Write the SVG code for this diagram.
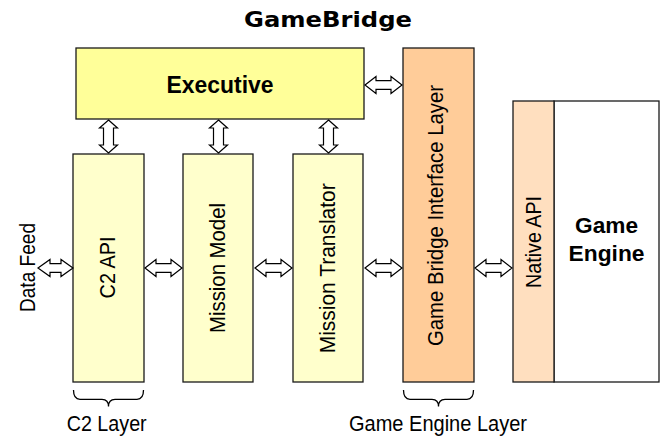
<svg xmlns="http://www.w3.org/2000/svg" width="661" height="437" viewBox="0 0 661 437">
<style>
.box{stroke:#1a1a1a;stroke-width:1.3}
.lbl{font-family:"Liberation Sans",Arial,sans-serif;font-size:22px;fill:#000}
.bold{font-weight:bold}
.arr{fill:#fff;stroke:#000;stroke-width:1.2;stroke-linejoin:miter}
.brace{fill:none;stroke:#000;stroke-width:1.3}
</style>
<rect width="661" height="437" fill="#fff"/>
<text x="328" y="27" text-anchor="middle" font-family="'DejaVu Sans',Verdana,sans-serif" font-weight="bold" font-size="20.5" textLength="168" lengthAdjust="spacingAndGlyphs">GameBridge</text>

<g id="executive">
<rect class="box" x="76" y="48" width="288" height="71" fill="#FFFF99"/>
<text class="lbl bold" x="220" y="93" text-anchor="middle" style="font-size:23px" textLength="107" lengthAdjust="spacingAndGlyphs">Executive</text>
</g>
<g id="c2api">
<rect class="box" x="73" y="154" width="71" height="228" fill="#FFFFCC"/>
<text class="lbl" transform="translate(115,267.5) rotate(-90)" text-anchor="middle" textLength="62" lengthAdjust="spacingAndGlyphs">C2 API</text>
</g>
<g id="missionmodel">
<rect class="box" x="183" y="154" width="70" height="228" fill="#FFFFCC"/>
<text class="lbl" transform="translate(224.5,268) rotate(-90)" text-anchor="middle" textLength="130" lengthAdjust="spacingAndGlyphs">Mission Model</text>
</g>
<g id="missiontranslator">
<rect class="box" x="293" y="154" width="70" height="228" fill="#FFFFCC"/>
<text class="lbl" transform="translate(334.5,268.3) rotate(-90)" text-anchor="middle" textLength="170" lengthAdjust="spacingAndGlyphs">Mission Translator</text>
</g>
<g id="gbil">
<rect class="box" x="403" y="48" width="71" height="334" fill="#FFCC99"/>
<text class="lbl" transform="translate(442.5,215.5) rotate(-90)" text-anchor="middle" textLength="261" lengthAdjust="spacingAndGlyphs">Game Bridge Interface Layer</text>
</g>
<g id="gameengine">
<rect class="box" x="554" y="101" width="105" height="281" fill="#FFFFFF"/>
<text class="lbl bold" x="606.5" y="233.3" text-anchor="middle" style="font-size:22.5px" textLength="63" lengthAdjust="spacingAndGlyphs">Game</text>
<text class="lbl bold" x="606.5" y="261" text-anchor="middle" style="font-size:22.5px" textLength="76" lengthAdjust="spacingAndGlyphs">Engine</text>
</g>
<g id="nativeapi">
<rect class="box" x="513" y="101" width="41" height="281" fill="#FFDFBF"/>
<text class="lbl" transform="translate(541,242) rotate(-90)" text-anchor="middle" textLength="92" lengthAdjust="spacingAndGlyphs">Native API</text>
</g>
<g id="datafeed">
<text class="lbl" transform="translate(35,267.5) rotate(-90)" text-anchor="middle" textLength="89" lengthAdjust="spacingAndGlyphs">Data Feed</text>
</g>
<g id="c2layer">
<path class="brace" d="M73.5,390 Q73.5,399.3 80,399.3 L102,399.3 Q108.5,399.3 108.5,406.5 Q108.5,399.3 115,399.3 L137,399.3 Q143.5,399.3 143.5,390"/>
<text class="lbl" x="106.7" y="431" text-anchor="middle" textLength="80" lengthAdjust="spacingAndGlyphs">C2 Layer</text>
</g>
<g id="gamelayer">
<path class="brace" d="M403.5,390 Q403.5,399.3 410,399.3 L432,399.3 Q438.5,399.3 438.5,406.5 Q438.5,399.3 445,399.3 L467,399.3 Q473.5,399.3 473.5,390"/>
<text class="lbl" x="438" y="431" text-anchor="middle" textLength="178" lengthAdjust="spacingAndGlyphs">Game Engine Layer</text>
</g>

<g id="connectors">
<path class="arr" d="M38,268 L50,259.5 L50,263.7 L61,263.7 L61,259.5 L73,268 L61,276.5 L61,272.3 L50,272.3 L50,276.5 Z"/>
<path class="arr" d="M145,268 L156,259.5 L156,263.7 L171,263.7 L171,259.5 L182,268 L171,276.5 L171,272.3 L156,272.3 L156,276.5 Z"/>
<path class="arr" d="M255,268 L266,259.5 L266,263.7 L281,263.7 L281,259.5 L292,268 L281,276.5 L281,272.3 L266,272.3 L266,276.5 Z"/>
<path class="arr" d="M365,268 L376,259.5 L376,263.7 L391,263.7 L391,259.5 L402,268 L391,276.5 L391,272.3 L376,272.3 L376,276.5 Z"/>
<path class="arr" d="M475,268 L486,259.5 L486,263.7 L501,263.7 L501,259.5 L512,268 L501,276.5 L501,272.3 L486,272.3 L486,276.5 Z"/>
<path class="arr" d="M365,85 L376,76.5 L376,80.7 L391,80.7 L391,76.5 L402,85 L391,93.5 L391,89.3 L376,89.3 L376,93.5 Z"/>
<path class="arr" d="M108.5,120 L117.5,128 L113.5,128 L113.5,145 L117.5,145 L108.5,153 L99.5,145 L103.5,145 L103.5,128 L99.5,128 Z"/>
<path class="arr" d="M218.5,120 L227.5,128 L223.5,128 L223.5,145 L227.5,145 L218.5,153 L209.5,145 L213.5,145 L213.5,128 L209.5,128 Z"/>
<path class="arr" d="M328.5,120 L337.5,128 L333.5,128 L333.5,145 L337.5,145 L328.5,153 L319.5,145 L323.5,145 L323.5,128 L319.5,128 Z"/>
</g>
</svg>
